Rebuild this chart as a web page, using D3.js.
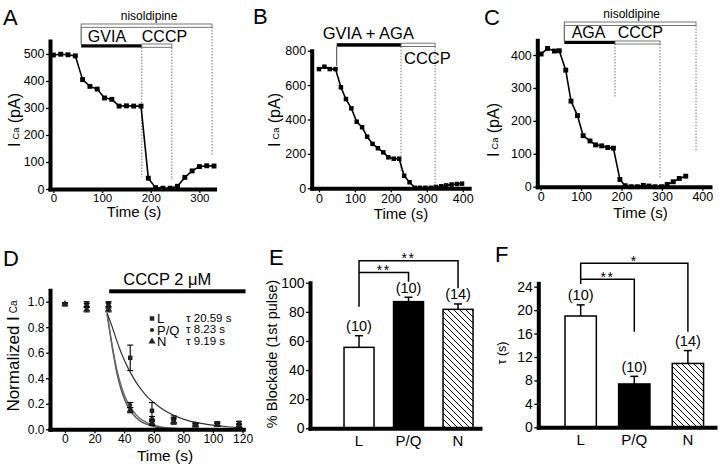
<!DOCTYPE html>
<html><head><meta charset="utf-8">
<script src="https://cdn.jsdelivr.net/npm/d3@7"></script>
<style>
body{margin:0;background:#fff;}
svg{display:block;}
</style></head><body>
<svg id="c" width="720" height="466"></svg>
<script>
// ---------- data ----------
const timeA=[0,15,30,45,60,75,90,105,120,135,150,165,180,195,210,225,240,255,270,285,300,315,330];
const currentA=[496,499,497,493,405,380,370,337,332,307,308,307,307,40,5,3,3,10,43,67,83,86,85];
const timeB=[0,15,30,46,61,75,90,105,120,134,149,164,179,193,208,223,237,252,267,281,296,311,325,340,354,369,384,398];
const currentB=[693,707,693,693,587,519,465,387,355,300,258,233,209,180,172,172,73,35,3,3,3,3,8,12,17,22,25,27];
const timeC=[1,17,34,46,62,75,91,105,122,136,151,166,180,196,209,224,239,254,268,283,299,313,328,343,359];
const currentC=[403,420,412,413,354,260,216,155,139,127,124,119,117,22,3,0,0,4,2,0,0,7,15,25,32];

const ticksAy=[0,100,200,300,400,500], ticksAx=[0,100,200,300];
const ticksBy=[0,200,400,600,800], ticksBx=[0,100,200,300,400];
const ticksCy=[0,100,200,300,400], ticksCx=[0,100,200,300,400];

const timeD=[0,14.7,29.4,44.1,58.8,73.5,88.2,102.9,117.6];
const meanL=[0.98,0.98,0.98,0.56,0.145,0.08,0.04,0.045,0.05];
const errL=[0.01,0.02,0.02,0.10,0.065,0.025,0.012,0.015,0.012];
const meanPQ=[0.98,0.97,0.97,0.19,0.08,0.07,0.035,0.04,0.03];
const errPQ=[0.01,0.015,0.02,0.02,0.02,0.02,0.01,0.01,0.01];
const meanN=[0.98,0.94,0.94,0.15,0.05,0.06,0.03,0.035,0.03];
const errN=[0.01,0.02,0.02,0.02,0.02,0.02,0.01,0.01,0.01];
const fitTime=[28.5,32,35,38,41,44,48,52,56,60,65,70,80,90,100,110,120];
const fitL=[0.91,0.80,0.695,0.60,0.52,0.45,0.37,0.305,0.25,0.21,0.165,0.13,0.08,0.05,0.032,0.02,0.013];
const fitPQ=[0.91,0.64,0.445,0.31,0.215,0.15,0.092,0.057,0.036,0.022,0.012,0.007,0.003,0.001,0,0,0];
const fitN=[0.90,0.65,0.47,0.34,0.245,0.177,0.115,0.075,0.049,0.032,0.019,0.011,0.004,0.002,0.001,0,0];
const seriesD=['L','P/Q','N'];
const tauLabelsD=['τ 20.59 s','τ 8.23 s','τ 9.19 s'];
const ticksDy=[0,0.2,0.4,0.6,0.8,1.0], ticksDx=[0,20,40,60,80,100,120];

const groups=['L','P/Q','N'];
const blockadeE=[55.6,87,81.7], semE=[8,3,3.7], nE=['(10)','(10)','(14)'];
const tauF=[19.0,7.4,10.9], semF=[1.9,1.3,2.2], nF=['(10)','(10)','(14)'];
const ticksEy=[0,20,40,60,80,100], ticksFy=[0,4,8,12,16,20,24];

// ---------- helpers ----------
const FONT='"Liberation Sans", Arial, Helvetica, sans-serif';
const svg=d3.select('#c').attr('font-family',FONT);
svg.append('rect').attr('width',720).attr('height',466).attr('fill','#fff');

function styleAxis(g,fs){
  g.attr('font-family',FONT).attr('font-size',fs);
  g.select('.domain').attr('stroke','#000').attr('stroke-width',4).attr('stroke-linecap','square');
  g.selectAll('.tick line').attr('stroke','#000').attr('stroke-width',1.3);
  g.selectAll('.tick text').attr('fill','#000');
}
function yAxis(x,y,ticks,fs,fmt){
  const ax=d3.axisLeft(y).tickValues(ticks).tickSize(4).tickPadding(1.5).tickSizeOuter(0);
  if(fmt) ax.tickFormat(fmt);
  svg.append('g').attr('transform',`translate(${x},0)`).call(ax).call(styleAxis,fs);
}
function xAxis(x,y0,ticks,fs,pad){
  svg.append('g').attr('transform',`translate(0,${y0})`)
    .call(d3.axisBottom(x).tickValues(ticks).tickSize(4).tickPadding(pad||1.5).tickSizeOuter(0)).call(styleAxis,fs);
}
function label(txt,x,y,fs,anchor){
  return svg.append('text').attr('x',x).attr('y',y).attr('font-size',fs).attr('text-anchor',anchor||'start').attr('fill','#000').text(txt);
}
function icaLabel(x,cy,fs){
  const t=svg.append('text').attr('transform',`translate(${x},${cy}) rotate(-90)`).attr('text-anchor','middle').attr('font-size',fs).attr('fill','#000');
  t.append('tspan').text('I');
  t.append('tspan').attr('font-size',fs*0.58).attr('dx',3).attr('dy',-1).text('Ca');
  t.append('tspan').attr('dy',1).text(' (pA)');
}
function trace(x,y,ts,vs,sz){
  const pts=ts.map((t,i)=>({t,v:vs[i]}));
  svg.append('path').datum(pts).attr('fill','none').attr('stroke','#000').attr('stroke-width',1.6)
    .attr('d',d3.line().x(d=>x(d.t)).y(d=>y(d.v)));
  svg.append('g').selectAll('path').data(pts).join('path')
    .attr('transform',d=>`translate(${x(d.t)},${y(d.v)})`)
    .attr('d',d3.symbol(d3.symbolSquare,sz)).attr('fill','#000');
}
function solidBar(x,t0,t1,ya,yb){
  svg.append('rect').attr('x',x(t0)).attr('width',x(t1)-x(t0)).attr('y',ya).attr('height',yb-ya).attr('fill','#000');
}
function openBar(x,t0,t1,ya,yb){
  svg.append('rect').attr('x',x(t0)).attr('width',x(t1)-x(t0)).attr('y',ya).attr('height',yb-ya)
    .attr('fill','#fff').attr('stroke','#666').attr('stroke-width',0.9);
}
function vline(x,t,ya,yb,dotted){
  svg.append('line').attr('x1',x(t)).attr('x2',x(t)).attr('y1',ya).attr('y2',yb)
    .attr('stroke',dotted?'#777':'#444').attr('stroke-width',1).attr('stroke-dasharray',dotted?'1.5,1.5':null);
}

// ---------- Panel A ----------
{
  const x=d3.scaleLinear().domain([-7,331]).range([50,214.5]);
  const y=d3.scaleLinear().domain([0,548]).range([189,41]);
  vline(x,57,27,44.5,false);
  vline(x,181.6,47.5,y(44),true);
  vline(x,243.3,47.5,y(33),true);
  vline(x,326,27,y(126),true);
  openBar(x,57,326,24,27.3);
  solidBar(x,57,181.6,44.3,47.5);
  openBar(x,181.6,243.3,44,47.3);
  label('nisoldipine',x(196.6),19.5,12,'middle');
  label('GVIA',x(70.7),42.3,16);
  label('CCCP',x(181.6),42.3,16);
  trace(x,y,timeA,currentA,24);
  yAxis(x(-7),y,ticksAy,12.5);
  xAxis(x,y(0),ticksAx,11.5,1);
  label('Time (s)',134,217,15,'middle');
  icaLabel(20,120,16);
  label('A',3,25,22);
}
// ---------- Panel B ----------
{
  const x=d3.scaleLinear().domain([-20.3,418]).range([311.7,469.2]);
  const y=d3.scaleLinear().domain([0,800]).range([188.3,50.7]);
  vline(x,49.3,46.5,66,false);
  vline(x,228.3,46.7,172,true);
  vline(x,323,46.7,186,true);
  solidBar(x,49.3,228.3,43.2,46.7);
  openBar(x,228.3,323,43.2,46.5);
  label('GVIA + AGA',x(10.3),39,16.5);
  label('CCCP',x(236.6),64.3,16.5);
  trace(x,y,timeB,currentB,20);
  yAxis(x(-20.3),y,ticksBy,12.5);
  xAxis(x,y(0),ticksBx,12.5);
  label('Time (s)',401,219,15,'middle');
  icaLabel(280,120,16);
  label('B',253,24,22);
}
// ---------- Panel C ----------
{
  const x=d3.scaleLinear().domain([-8.4,419]).range([537.3,710]);
  const y=d3.scaleLinear().domain([0,445]).range([186.7,40.2]);
  vline(x,58.4,25.5,41,false);
  vline(x,184,44,98,true);
  vline(x,295.3,44,178,true);
  vline(x,384.4,25.5,152,true);
  openBar(x,58.4,384.4,22,25.5);
  solidBar(x,58.4,184,40.8,44);
  openBar(x,184,295.3,41,44);
  label('nisoldipine',x(225.2),18,12,'middle');
  label('AGA',x(76.7),38.3,16);
  label('CCCP',x(190.6),38.3,16);
  trace(x,y,timeC,currentC,24);
  yAxis(x(-8.4),y,ticksCy,12.5);
  xAxis(x,y(0),ticksCx,12.5);
  label('Time (s)',640.5,217.5,15,'middle');
  icaLabel(499,130,16);
  label('C',484,25,22);
}
// ---------- Panel D ----------
{
  const x=d3.scaleLinear().domain([-10.1,120.5]).range([50,243.3]);
  const y=d3.scaleLinear().domain([0,1.09]).range([429.3,290.2]);
  svg.append('rect').attr('x',x(29.9)).attr('width',x(122)-x(29.9)).attr('y',289.3).attr('height',4).attr('fill','#000');
  label('CCCP 2 μM',x(39.4),285,16.5);
  const fitLine=d3.line().x(d=>x(d.t)).y(d=>y(d.v)).curve(d3.curveMonotoneX);
  [[fitPQ,1.4,'#555'],[fitN,1.4,'#666'],[fitL,1.2,'#333']].forEach(([arr,w,c])=>{
    svg.append('path').datum(fitTime.map((t,i)=>({t,v:arr[i]}))).attr('fill','none')
      .attr('stroke',c).attr('stroke-width',w).attr('d',fitLine);
  });
  const shapes=[d3.symbolSquare,d3.symbolCircle,d3.symbolTriangle];
  const sizes=[20,14,22];
  const means=[meanL,meanPQ,meanN], errs=[errL,errPQ,errN];
  means.forEach((m,s)=>{
    const g=svg.append('g');
    timeD.forEach((t,i)=>{
      const cx=x(t), lo=y(m[i]-errs[s][i]), hi=y(m[i]+errs[s][i]);
      g.append('line').attr('x1',cx).attr('x2',cx).attr('y1',lo).attr('y2',hi).attr('stroke','#000').attr('stroke-width',1.1);
      [lo,hi].forEach(yy=>g.append('line').attr('x1',cx-3).attr('x2',cx+3).attr('y1',yy).attr('y2',yy).attr('stroke','#000').attr('stroke-width',1.1));
      g.append('path').attr('transform',`translate(${cx},${y(m[i])})`).attr('d',d3.symbol(shapes[s],sizes[s])).attr('fill','#222');
    });
  });
  // legend
  const legY=[318.5,330,341.5], legBase=[323,334.5,346], tauBase=[321.5,333,344.5];
  seriesD.forEach((s,i)=>{
    svg.append('path').attr('transform',`translate(152,${legY[i]})`).attr('d',d3.symbol(shapes[i],sizes[i])).attr('fill','#222');
    label(s,157,legBase[i],13);
    label(tauLabelsD[i],186,tauBase[i],11.5);
  });
  yAxis(x(-10.1),y,ticksDy,12,d3.format('.1f'));
  xAxis(x,y(0),ticksDx,12,1);
  label('Time (s)',165,460.5,15.5,'middle');
  const t=svg.append('text').attr('transform','translate(19,356) rotate(-90)').attr('text-anchor','middle').attr('font-size',17).attr('fill','#000');
  t.append('tspan').text('Normalized I');
  t.append('tspan').attr('font-size',10).attr('dx',3).attr('dy',-2).text('Ca');
  label('D',3,266,22);
}
// ---------- bar panel helper ----------
function barPanel(cfg){
  const {x,y,vals,sems,ns,sig,ticks}=cfg;
  const defs=svg.append('defs');
  const pid='hatch'+cfg.id;
  const pat=defs.append('pattern').attr('id',pid).attr('patternUnits','userSpaceOnUse').attr('width',6).attr('height',6);
  pat.append('rect').attr('width',6).attr('height',6).attr('fill','#fff');
  pat.append('path').attr('d','M-1,-1L7,7M-1,5L1,7M5,-1L7,1').attr('stroke','#000').attr('stroke-width',1);
  const fills=['#fff','#000',`url(#${pid})`];
  groups.forEach((gname,i)=>{
    const x0=x(gname), w=x.bandwidth(), cx=x0+w/2;
    svg.append('rect').attr('x',x0).attr('y',y(vals[i])).attr('width',w).attr('height',y(0)-y(vals[i]))
      .attr('fill',fills[i]).attr('stroke','#000').attr('stroke-width',1.5);
    const et=y(vals[i]+sems[i]);
    svg.append('line').attr('x1',cx).attr('x2',cx).attr('y1',y(vals[i])).attr('y2',et).attr('stroke','#000').attr('stroke-width',1.5);
    svg.append('line').attr('x1',cx-4).attr('x2',cx+4).attr('y1',et).attr('y2',et).attr('stroke','#000').attr('stroke-width',1.5);
    label(ns[i],cx,et-4.5,14.5,'middle');
  });
  sig.forEach(s=>{
    const xa=x(s.a)+x.bandwidth()/2, xb=x(s.b)+x.bandwidth()/2;
    const p=d3.path();
    if(s.ya!=null){p.moveTo(xa,y(s.ya));p.lineTo(xa,y(s.y));}else{p.moveTo(xa,y(s.y));}
    p.lineTo(xb,y(s.y));p.lineTo(xb,y(s.yb));
    svg.append('path').attr('d',p.toString()).attr('fill','none').attr('stroke','#000').attr('stroke-width',1.5);
    label(s.star,(xa+xb)/2,y(s.y)+2.5,14,'middle').attr('letter-spacing',1.5);
  });
  svg.append('g').attr('transform',`translate(${x.range()[0]},0)`)
    .call(d3.axisLeft(y).tickValues(ticks).tickSize(4).tickPadding(1.5).tickSizeOuter(0)).call(styleAxis,14);
  const xg=svg.append('g').attr('transform',`translate(0,${y(0)})`)
    .call(d3.axisBottom(x).tickSize(0).tickPadding(7));
  styleAxis(xg,15);
}
// ---------- Panel E ----------
{
  const x=d3.scaleBand().domain(groups).range([310,480]).paddingInner(0.394).paddingOuter(0.414).align(0.83);
  const y=d3.scaleLinear().domain([0,100]).range([428.3,282.7]);
  barPanel({id:'E',x,y,vals:blockadeE,sems:semE,ns:nE,ticks:ticksEy,
    sig:[{a:'L',b:'N',y:115,ya:83.5,yb:96.2,star:'**'},{a:'L',b:'P/Q',y:107,ya:null,yb:100.7,star:'**'}]});
  svg.append('text').attr('transform','translate(277,354) rotate(-90)').attr('text-anchor','middle')
    .attr('font-size',14.5).attr('fill','#000').text('% Blockade (1st pulse)');
  label('E',269,265,22);
}
// ---------- Panel F ----------
{
  const x=d3.scaleBand().domain(groups).range([538.3,715]).paddingInner(0.416).paddingOuter(0.356).align(0.70);
  const y=d3.scaleLinear().domain([0,24.6]).range([427.3,283.2]);
  barPanel({id:'F',x,y,vals:tauF,sems:semF,ns:nF,ticks:ticksFy,
    sig:[{a:'L',b:'N',y:28.0,ya:24.46,yb:16.3,star:'*'},{a:'L',b:'P/Q',y:25.26,ya:null,yb:16.3,star:'**'}]});
  svg.append('text').attr('transform','translate(506,353) rotate(-90)').attr('text-anchor','middle')
    .attr('font-size',12.5).attr('fill','#000').text('τ (s)');
  label('F',495,262,22);
}
</script>
</body></html>
